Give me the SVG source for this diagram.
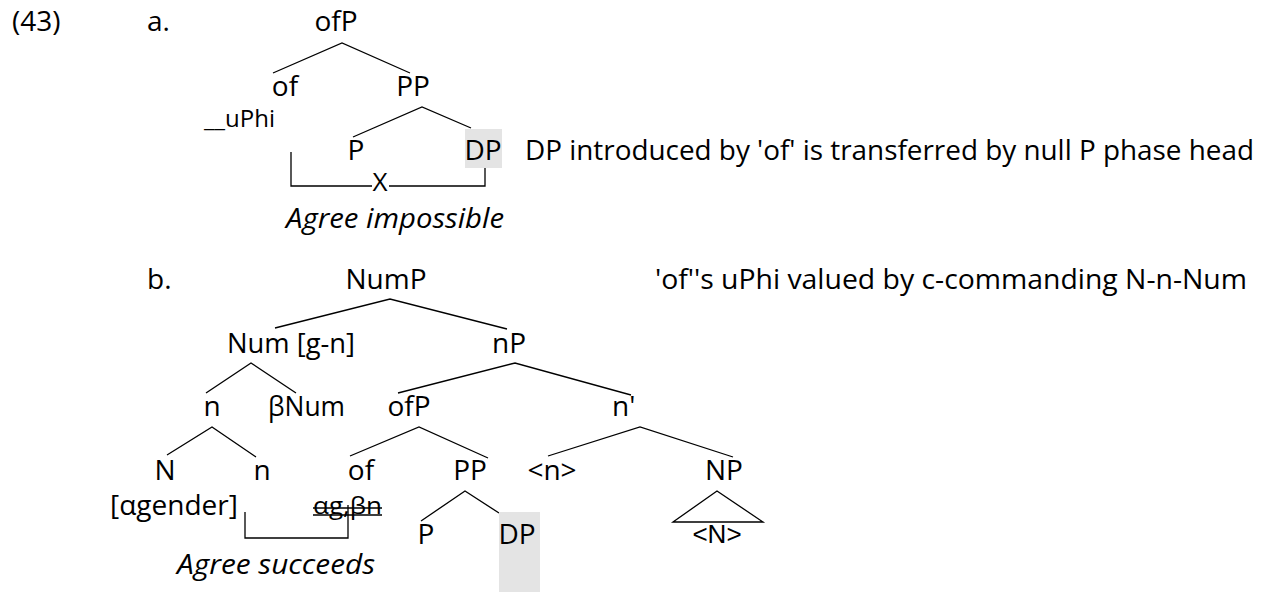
<svg xmlns="http://www.w3.org/2000/svg" width="1265" height="594" viewBox="0 0 1265 594">
<style>
text{font-family:"Open Sans","Liberation Sans",sans-serif;font-size:28px;fill:#000}
.m{text-anchor:middle}
.it{font-style:italic}
.sm{font-size:24px}
.ln{stroke:#000;stroke-width:1.3;fill:none}
.hl{fill:#e4e4e4}
</style>
<rect width="1265" height="594" fill="#fff"/>
<g id="labels">
<text x="12" y="31">(43)</text>
<text x="147" y="31">a.</text>
<text x="147" y="289">b.</text>
</g>
<g id="connectors" class="ln">
<path d="M273 73 L342 43 L410 73"/>
<path d="M353 137 L422 107 L471 128"/>
<path d="M291 152 V186 H372 M389 186 H485 V168"/>
<path d="M275 328 L390 299 L507 329"/>
<path d="M206 393 L251 363 L296 393"/>
<path d="M398 393 L515 363 L631 395"/>
<path d="M167 455 L212 427 L256 457"/>
<path d="M350 456 L419 427 L488 458"/>
<path d="M548 456 L640 427 L733 457"/>
<path d="M421 521 L465 491 L499 513"/>
<path d="M245 512 V538 H348 V505"/>
<path d="M673 522 L717 491 L763 522 Z"/>
<path d="M313 508 H382 M313 515 H382"/>
</g>
<g id="a-ofP"><text class="m" x="336" y="31">ofP</text></g>
<g id="a-of"><text class="m" x="285" y="96">of</text><text class="sm" x="204" y="127">__uPhi</text></g>
<g id="a-PP"><text class="m" x="413" y="96">PP</text></g>
<g id="a-P"><text class="m" x="356" y="160">P</text></g>
<g id="a-DP"><rect class="hl" x="465" y="129" width="37" height="39"/><text class="m" x="483" y="160">DP</text></g>
<g id="a-note"><text x="525" y="160" textLength="729" lengthAdjust="spacingAndGlyphs">DP introduced by 'of' is transferred by null P phase head</text></g>
<g id="a-agree"><text class="m" x="380" y="191" style="font-size:26px">X</text><text class="it" x="286" y="228" textLength="218" lengthAdjust="spacingAndGlyphs">Agree impossible</text></g>

<g id="b-NumP"><text class="m" x="386" y="289">NumP</text></g>
<g id="b-note"><text x="655" y="289" textLength="592" lengthAdjust="spacingAndGlyphs">'of''s uPhi valued by c-commanding N-n-Num</text></g>
<g id="b-Num"><text x="227" y="353" textLength="128" lengthAdjust="spacingAndGlyphs">Num [g-n]</text></g>
<g id="b-nP"><text class="m" x="509" y="353">nP</text></g>
<g id="b-n1"><text class="m" x="212" y="416">n</text></g>
<g id="b-bNum"><text x="268" y="416" textLength="77" lengthAdjust="spacingAndGlyphs">βNum</text></g>
<g id="b-ofP"><text class="m" x="409" y="416">ofP</text></g>
<g id="b-nbar"><text x="612" y="416">n'</text></g>
<g id="b-N"><text class="m" x="165" y="480">N</text><text x="110" y="515" textLength="128" lengthAdjust="spacingAndGlyphs">[αgender]</text></g>
<g id="b-n2"><text class="m" x="262" y="480">n</text></g>
<g id="b-of"><text class="m" x="361" y="480">of</text><text class="sm" x="313" y="514" textLength="69" lengthAdjust="spacingAndGlyphs">αg,βn</text></g>
<g id="b-PP"><text class="m" x="470" y="480">PP</text></g>
<g id="b-tn"><text class="m" x="552" y="480">&lt;n&gt;</text></g>
<g id="b-NP"><text class="m" x="724" y="480">NP</text><text class="m" x="717" y="543" style="font-family:'Liberation Sans',sans-serif;font-size:26px">&lt;N&gt;</text></g>
<g id="b-P"><text class="m" x="426" y="544">P</text></g>
<g id="b-DP"><rect class="hl" x="499" y="512" width="41" height="80"/><text class="m" x="517" y="544">DP</text></g>
<g id="b-agree"><text class="it" x="177" y="574" textLength="198" lengthAdjust="spacingAndGlyphs">Agree succeeds</text></g>
</svg>
